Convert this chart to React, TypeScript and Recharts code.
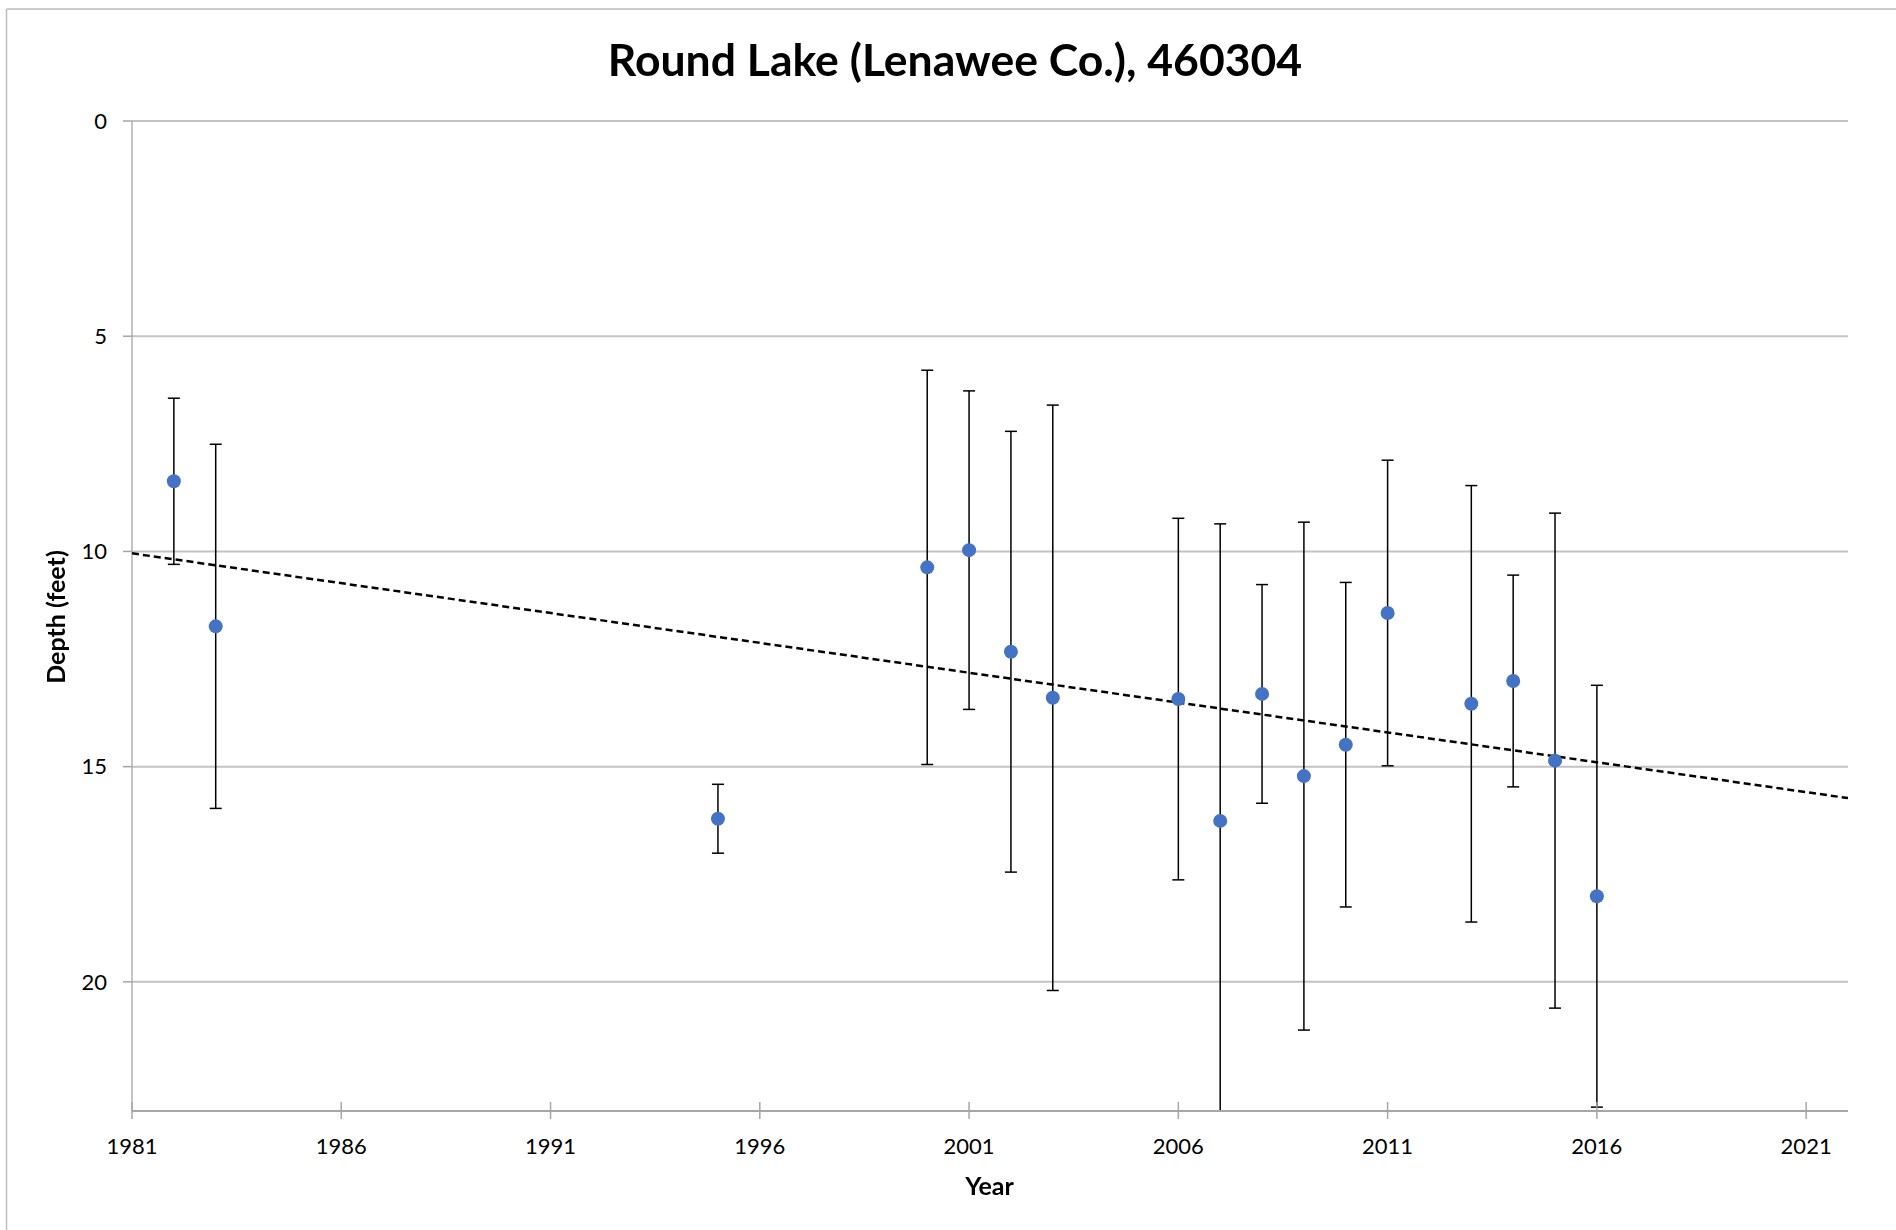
import React from 'react';
import { ScatterChart, Scatter, XAxis, YAxis, CartesianGrid, ErrorBar } from 'recharts';

const years = [1982, 1983, 1995, 2000, 2001, 2002, 2003, 2006, 2007, 2008, 2009, 2010, 2011, 2013, 2014, 2015, 2016];
const depths = [8.37, 11.74, 16.21, 10.37, 9.97, 12.33, 13.4, 13.43, 16.26, 13.31, 15.22, 14.49, 11.43, 13.54, 13.01, 14.86, 18.01];
const errors = [1.93, 4.23, 0.8, 4.58, 3.7, 5.12, 6.8, 4.2, 6.9, 2.54, 5.9, 3.77, 3.55, 5.07, 2.46, 5.75, 4.9];
const xTicks = [1981, 1986, 1991, 1996, 2001, 2006, 2011, 2016, 2021];
const yTicks = [0, 5, 10, 15, 20];
const xDomain = [1981, 2022];
const yDomain = [0, 23];

const title = 'Round Lake (Lenawee Co.), 460304';
const xTitle = 'Year';
const yTitle = 'Depth (feet)';

const points = years.map((year, i) => ({ year, depth: depths[i], err: errors[i] }));

// Linear least-squares trendline computed from the data
const n = years.length;
const mx = years.reduce((a, b) => a + b, 0) / n;
const my = depths.reduce((a, b) => a + b, 0) / n;
let sxy = 0;
let sxx = 0;
for (let i = 0; i < n; i++) {
  sxy += (years[i] - mx) * (depths[i] - my);
  sxx += (years[i] - mx) * (years[i] - mx);
}
const slope = sxy / sxx;
const trend = xDomain.map((year) => ({ year, depth: my + slope * (year - mx) }));

const FONT = 'Lato, "Open Sans", sans-serif';

// plot area in chart svg coordinates
const PLOT_LEFT = 124;
const PLOT_TOP = 113;
const PLOT_RIGHT = 1840;
const PLOT_BOTTOM = 1103;

const XTick = (props: any) => {
  const { x, y, payload } = props;
  return (
    <g>
      <line x1={x} x2={x} y1={y - 9} y2={y + 8} stroke="#a6a6a6" strokeWidth={1.5} />
      <text x={x} y={y + 43} textAnchor="middle" fill="#000" fontSize={22} fontFamily={FONT}>
        {payload.value}
      </text>
    </g>
  );
};

const Dot = (props: any) => {
  const { cx, cy } = props;
  if (cx == null || cy == null) return <g />;
  return <circle cx={cx} cy={cy} r={7} fill="#4472C4" />;
};

const Empty = () => <g />;

export default function App() {
  return (
    <div style={{ position: 'relative', width: 1880, height: 1214 }}>
      <style>{`.recharts-errorBars, .recharts-errorBar { clip-path: url(#plotAreaClip); }`}</style>
      <svg width={0} height={0} style={{ position: 'absolute' }}>
        <defs>
          <clipPath id="plotAreaClip" clipPathUnits="userSpaceOnUse">
            <rect x={PLOT_LEFT - 20} y={PLOT_TOP} width={PLOT_RIGHT - PLOT_LEFT + 40} height={PLOT_BOTTOM - PLOT_TOP} />
          </clipPath>
        </defs>
      </svg>
      <ScatterChart
        width={1880}
        height={1214}
        margin={{ top: PLOT_TOP, right: 1880 - PLOT_RIGHT, bottom: 1214 - PLOT_BOTTOM - 40, left: PLOT_LEFT - 60 }}
        style={{ fontFamily: FONT }}
      >
        <CartesianGrid horizontal vertical={false} stroke="#c3c3c3" strokeWidth={2} />
        <XAxis
          type="number"
          dataKey="year"
          domain={xDomain}
          ticks={xTicks}
          allowDataOverflow
          height={40}
          tickSize={0}
          tickMargin={0}
          tickLine={false}
          axisLine={{ stroke: '#a6a6a6', strokeWidth: 2 }}
          tick={<XTick />}
          interval={0}
        />
        <YAxis
          type="number"
          dataKey="depth"
          domain={yDomain}
          ticks={yTicks}
          reversed
          allowDataOverflow
          width={60}
          tickSize={9}
          tickMargin={16}
          tickLine={{ stroke: '#a6a6a6', strokeWidth: 1.5 }}
          axisLine={{ stroke: '#b0b0b0', strokeWidth: 1.5 }}
          tick={{ fill: '#000', fontSize: 22, fontFamily: FONT }}
          interval={0}
        />
        <Scatter
          data={trend}
          line={{ stroke: '#000', strokeWidth: 2.5, strokeDasharray: '7 4' }}
          shape={<Empty />}
          isAnimationActive={false}
        />
        <Scatter data={points} shape={<Dot />} isAnimationActive={false}>
          <ErrorBar dataKey="err" direction="y" width={6} stroke="#000" strokeWidth={1.5} isAnimationActive={false} />
        </Scatter>
      </ScatterChart>
      <svg
        width={1896}
        height={1230}
        style={{ position: 'fixed', left: 0, top: 0, pointerEvents: 'none' }}
      >
        <line x1={6.5} y1={9} x2={1896} y2={9} stroke="#bdbdbd" strokeWidth={1.5} />
        <line x1={6.5} y1={9} x2={6.5} y2={1230} stroke="#bdbdbd" strokeWidth={1.5} />
        <text x={955} y={76} textAnchor="middle" fontFamily={FONT} fontWeight={700} fontSize={44.5} fill="#000">
          {title}
        </text>
        <text x={989.5} y={1195} textAnchor="middle" fontFamily={FONT} fontWeight={700} fontSize={25} fill="#000">
          {xTitle}
        </text>
        <text
          x={65}
          y={617}
          textAnchor="middle"
          fontFamily={FONT}
          fontWeight={700}
          fontSize={25}
          fill="#000"
          transform="rotate(-90 65 617)"
        >
          {yTitle}
        </text>
      </svg>
    </div>
  );
}
